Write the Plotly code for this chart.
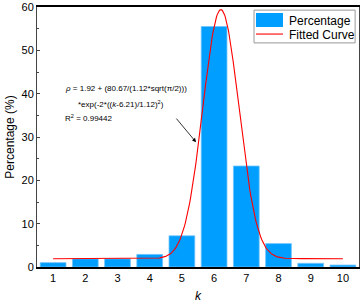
import numpy as np
import plotly.graph_objects as go

k_values = [1, 2, 3, 4, 5, 6, 7, 8, 9, 10]
percentages = [1.0, 1.9, 1.9, 2.9, 7.2, 55.5, 23.3, 5.4, 0.85, 0.45]
y_ticks = [0, 10, 20, 30, 40, 50, 60]
legend_labels = ["Percentage", "Fitted Curve"]

# fitted Gaussian parameters (shown in the annotation)
y0 = 1.92
A = 80.67
w = 1.12
xc = 6.21

kk = np.linspace(1, 10, 400)
fit = y0 + (A / (w * np.sqrt(np.pi / 2))) * np.exp(-2 * ((kk - xc) / w) ** 2)

FONT = "Liberation Sans, Arial, sans-serif"
BAR_COLOR = "rgb(0,158,255)"

fig = go.Figure()
fig.add_trace(go.Bar(
    x=k_values, y=percentages, name=legend_labels[0], width=0.8,
    marker=dict(color=BAR_COLOR, line=dict(color="rgb(110,195,255)", width=0.8)),
))
fig.add_trace(go.Scatter(
    x=kk, y=fit, mode="lines", name=legend_labels[1],
    line=dict(color="red", width=1.1),
))

fig.update_layout(
    width=361, height=306,
    margin=dict(l=37, r=2, t=7, b=39),
    plot_bgcolor="white", paper_bgcolor="white",
    font=dict(family=FONT, color="black", size=10),
    showlegend=False,
    bargap=0.2,
)
fig.update_xaxes(
    range=[0.5, 10.5], tickmode="array", tickvals=k_values,
    ticks="", showline=True, linecolor="black", linewidth=1.5, mirror=True,
    showgrid=False, zeroline=False, tickfont=dict(size=11),
    title=dict(text="<i>k</i>", font=dict(size=12), standoff=9),
)
fig.update_yaxes(
    range=[0, 60], tickmode="array", tickvals=y_ticks,
    ticks="inside", ticklen=3, tickcolor="#444", tickwidth=1,
    minor=dict(ticks="inside", ticklen=2, dtick=5, tickcolor="#444", showgrid=False),
    showline=True, linecolor="#444", linewidth=1, mirror=True,
    showgrid=False, zeroline=False, tickfont=dict(size=11),
    title=dict(text="Percentage (%)", font=dict(size=12), standoff=4),
)

# manual legend box
fig.add_shape(type="rect", xref="paper", yref="paper", x0=0.674, x1=0.988, y0=0.862, y1=0.988,
              line=dict(color="#999999", width=1), fillcolor="white", layer="above")
fig.add_shape(type="rect", xref="paper", yref="paper", x0=0.680, x1=0.764, y0=0.923, y1=0.977,
              line=dict(width=0), fillcolor=BAR_COLOR, layer="above")
fig.add_shape(type="line", xref="paper", yref="paper", x0=0.680, x1=0.764, y0=0.896, y1=0.896,
              line=dict(color="red", width=1.1), layer="above")
leg_font = dict(size=12, family=FONT, color="black")
fig.add_annotation(xref="paper", yref="paper", x=0.776, y=0.948, xanchor="left", yanchor="middle",
                   text=legend_labels[0], showarrow=False, font=leg_font)
fig.add_annotation(xref="paper", yref="paper", x=0.776, y=0.893, xanchor="left", yanchor="middle",
                   text=legend_labels[1], showarrow=False, font=leg_font)

ann_font = dict(size=8, family=FONT, color="black")
fig.add_annotation(xref="paper", yref="paper", x=0.0807, y=0.688, xanchor="left", yanchor="middle",
                   text="<i>ρ</i> = 1.92 + (80.67/(1.12*sqrt(π/2)))", showarrow=False, font=ann_font)
fig.add_annotation(xref="paper", yref="paper", x=0.121, y=0.627, xanchor="left", yanchor="middle",
                   text="*exp(-2*((<i>k</i>-6.21)/1.12)<sup>2</sup>)", showarrow=False, font=ann_font)
fig.add_annotation(xref="paper", yref="paper", x=0.0807, y=0.573, xanchor="left", yanchor="middle",
                   text="R<sup>2</sup> = 0.99442", showarrow=False, font=ann_font)
fig.add_annotation(x=5.44, y=28.8, ax=4.79, ay=34.6, axref="x", ayref="y", xref="x", yref="y",
                   text="", showarrow=True, arrowhead=2, arrowsize=1, arrowwidth=0.8, arrowcolor="black")

fig.write_html("out.html", config={"displayModeBar": False},
               post_script="document.body.style.margin='0';document.body.style.overflow='hidden';")
